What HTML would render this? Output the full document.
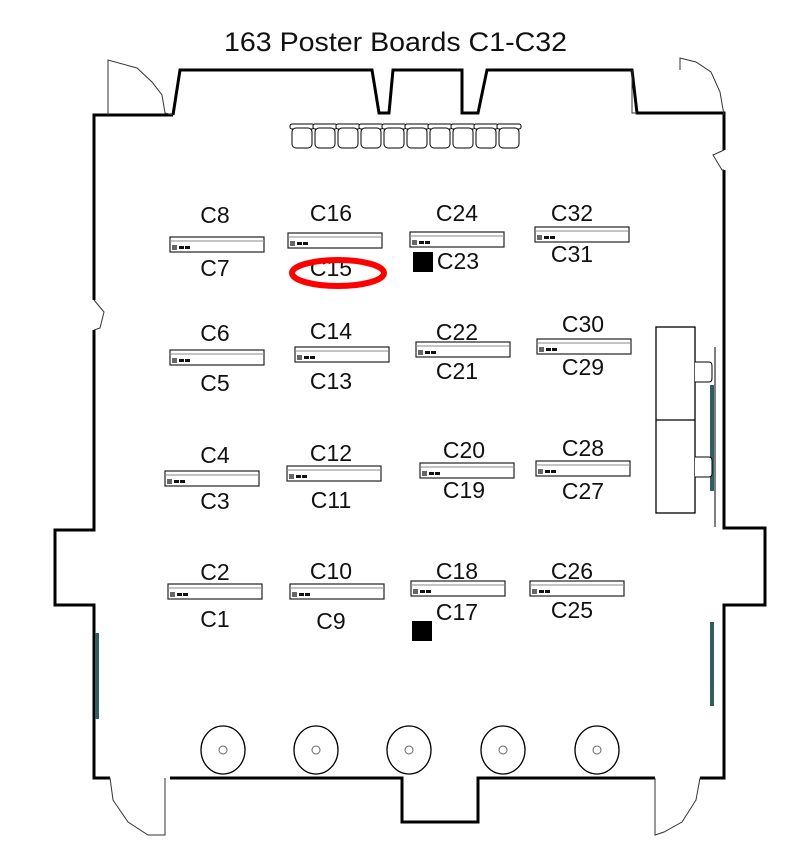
<!DOCTYPE html>
<html><head><meta charset="utf-8"><style>
html,body{margin:0;padding:0;background:#fff;}
svg{display:block;}
text{font-family:"Liberation Sans",sans-serif;fill:#111;}
</style></head><body>
<svg width="800" height="845" viewBox="0 0 800 845" xmlns="http://www.w3.org/2000/svg">
<text x="224" y="51" font-size="27" textLength="343" lengthAdjust="spacingAndGlyphs">163 Poster Boards C1-C32</text>
<!-- outer wall -->
<path d="M173,115 L180,70 L372,70 L379,113 L389,113 L393,70 L462,70 L462,113 L478,113 L487,70 L632,70 L637,113 L724,113 L724,150 M724,170 L724,528 L765,528 L765,605 L724,605 L724,778 L700,778 M655,778 L478,778 L478,822 L402,822 L402,778 L170,778 M110,778 L94,778 L94,605 L55,605 L55,530 L94,530 L94,330 M94,300 L94,115 L173,115" fill="none" stroke="#000" stroke-width="3"/>
<!-- doors -->
<g fill="none" stroke="#333" stroke-width="1">
<path d="M173,115 L165,113 L162,95 L152,82 L137,68 L108,60 L108,115"/>
<path d="M637,113 L632,113 L632,70"/>
<path d="M724,115 L720,92 L711,72 L696,62 L680,58 L680,70"/>
<path d="M724,150 L713,155 L722,170 L724,170"/>
<path d="M94,300 L104,312 L100,328 L94,330"/>
<path d="M110,778 L113,800 L128,822 L148,835 L165,835 L165,778"/>
<path d="M700,778 L696,800 L682,822 L664,832 L655,835 L655,778"/>
</g>
<!-- chairs -->
<g fill="#fff" stroke="#000" stroke-width="1">
<rect x="290" y="124" width="24" height="5" rx="2"/><rect x="292" y="128" width="20" height="20" rx="4"/>
<rect x="313" y="124" width="24" height="5" rx="2"/><rect x="315" y="128" width="20" height="20" rx="4"/>
<rect x="336" y="124" width="24" height="5" rx="2"/><rect x="338" y="128" width="20" height="20" rx="4"/>
<rect x="359" y="124" width="24" height="5" rx="2"/><rect x="361" y="128" width="20" height="20" rx="4"/>
<rect x="382" y="124" width="24" height="5" rx="2"/><rect x="384" y="128" width="20" height="20" rx="4"/>
<rect x="405" y="124" width="24" height="5" rx="2"/><rect x="407" y="128" width="20" height="20" rx="4"/>
<rect x="428" y="124" width="24" height="5" rx="2"/><rect x="430" y="128" width="20" height="20" rx="4"/>
<rect x="451" y="124" width="24" height="5" rx="2"/><rect x="453" y="128" width="20" height="20" rx="4"/>
<rect x="474" y="124" width="24" height="5" rx="2"/><rect x="476" y="128" width="20" height="20" rx="4"/>
<rect x="497" y="124" width="24" height="5" rx="2"/><rect x="499" y="128" width="20" height="20" rx="4"/>
</g>
<!-- boards -->
<defs>
<g id="b">
<rect x="0" y="0" width="94" height="15" fill="#fff" stroke="#222" stroke-width="1.2"/>
<line x1="0" y1="4" x2="94" y2="4" stroke="#888" stroke-width="1"/>
<rect x="2" y="8" width="5" height="5" fill="#666"/>
<rect x="9" y="9" width="5" height="3" fill="#111"/>
<rect x="15" y="9" width="5" height="3" fill="#111"/>
</g>
</defs>
<use href="#b" x="170" y="237"/><use href="#b" x="288" y="233"/><use href="#b" x="410" y="232"/><use href="#b" x="535" y="227"/>
<use href="#b" x="170" y="350"/><use href="#b" x="295" y="347"/><use href="#b" x="416" y="342"/><use href="#b" x="537" y="339"/>
<use href="#b" x="165" y="471"/><use href="#b" x="287" y="466"/><use href="#b" x="420" y="463"/><use href="#b" x="536" y="461"/>
<use href="#b" x="168" y="584"/><use href="#b" x="290" y="584"/><use href="#b" x="411" y="581"/><use href="#b" x="530" y="581"/>
<g font-size="23" text-anchor="middle">
<text x="215" y="223">C8</text><text x="215" y="276">C7</text>
<text x="331" y="221">C16</text><text x="331" y="276">C15</text>
<text x="457" y="221">C24</text><text x="458" y="269">C23</text>
<text x="572" y="221">C32</text><text x="572" y="262">C31</text>
<text x="215" y="341">C6</text><text x="215" y="391">C5</text>
<text x="331" y="339">C14</text><text x="331" y="389">C13</text>
<text x="457" y="340">C22</text><text x="457" y="379">C21</text>
<text x="583" y="332">C30</text><text x="583" y="375">C29</text>
<text x="215" y="463">C4</text><text x="215" y="509">C3</text>
<text x="331" y="461">C12</text><text x="331" y="508">C11</text>
<text x="464" y="458">C20</text><text x="464" y="498">C19</text>
<text x="583" y="456">C28</text><text x="583" y="499">C27</text>
<text x="215" y="580">C2</text><text x="215" y="627">C1</text>
<text x="331" y="579">C10</text><text x="331" y="629">C9</text>
<text x="457" y="579">C18</text><text x="457" y="620">C17</text>
<text x="572" y="579">C26</text><text x="572" y="618">C25</text>
</g>
<rect x="413" y="252" width="20" height="20" fill="#000"/>
<rect x="412" y="621" width="20" height="20" fill="#000"/>
<ellipse cx="338" cy="273" rx="46" ry="13" fill="none" stroke="#f00" stroke-width="6"/>
<!-- right structure -->
<rect x="656" y="327" width="39" height="186" fill="#fff" stroke="#000" stroke-width="1.3"/>
<line x1="656" y1="420" x2="695" y2="420" stroke="#000" stroke-width="1.3"/>
<rect x="710" y="385" width="4" height="106" fill="#2f5f5f"/>
<line x1="715" y1="347" x2="715" y2="527" stroke="#000" stroke-width="1"/>
<path d="M695,362 h14 q3,0 3,4 v12 q0,4 -3,4 h-14" fill="#fff" stroke="#000"/>
<path d="M695,457 h14 q3,0 3,4 v12 q0,4 -3,4 h-14" fill="#fff" stroke="#000"/>
<rect x="95" y="633" width="4" height="86" fill="#2f5f5f"/>
<rect x="710" y="622" width="4" height="84" fill="#2f5f5f"/>
<!-- round tables -->
<g fill="#fff" stroke="#000" stroke-width="1.3">
<ellipse cx="223" cy="750" rx="22" ry="24"/><ellipse cx="316" cy="750" rx="22" ry="24"/><ellipse cx="409" cy="750" rx="22" ry="24"/><ellipse cx="503" cy="750" rx="22" ry="24"/><ellipse cx="597" cy="750" rx="22" ry="24"/>
</g>
<g fill="none" stroke="#666" stroke-width="1">
<circle cx="223" cy="750" r="4"/><circle cx="316" cy="750" r="4"/><circle cx="409" cy="750" r="4"/><circle cx="503" cy="750" r="4"/><circle cx="597" cy="750" r="4"/>
</g>
</svg>
</body></html>
